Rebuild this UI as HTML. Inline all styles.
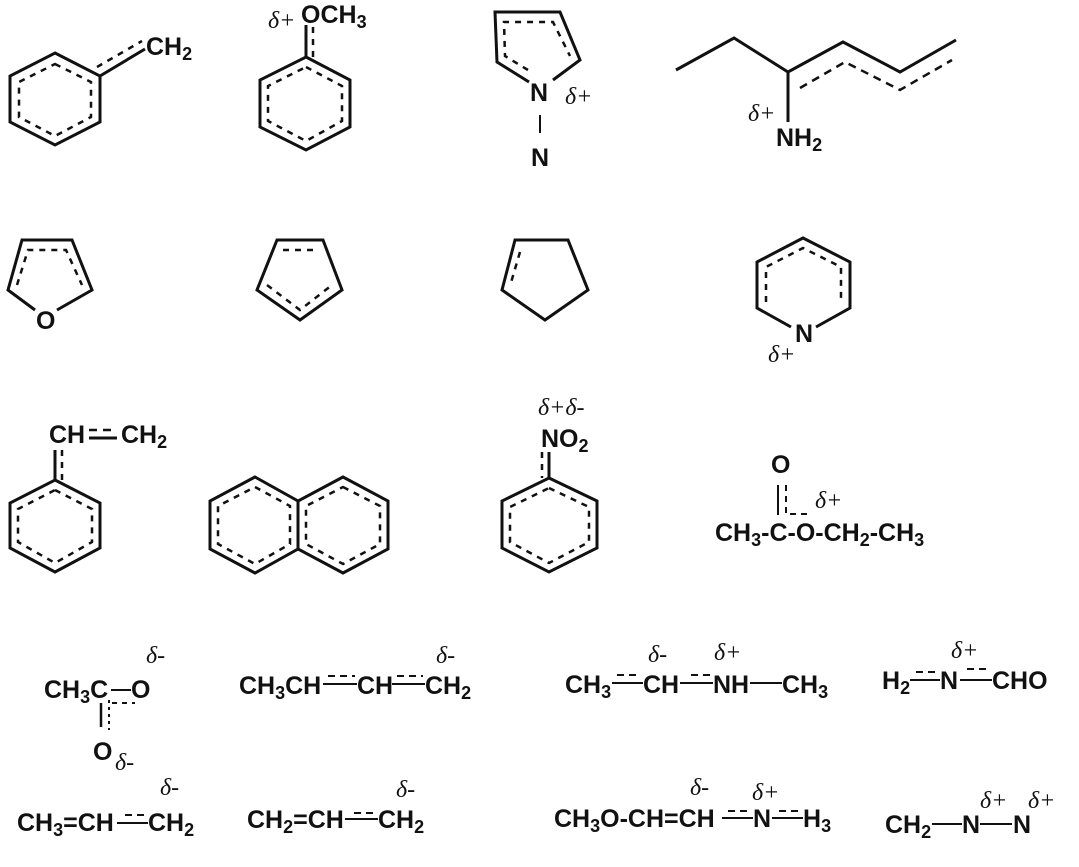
<!DOCTYPE html>
<html><head><meta charset="utf-8"><style>
html,body{margin:0;padding:0;background:#fff;}
svg text{font-family:"Liberation Sans",Arial,sans-serif;font-weight:bold;font-size:25px;fill:#111;}
svg text.d{font-family:"Liberation Serif",serif;font-style:italic;font-weight:normal;font-size:24px;}
</style></head><body>
<svg width="1079" height="862" viewBox="0 0 1079 862" xmlns="http://www.w3.org/2000/svg">
<g stroke="#111" stroke-width="3" fill="none" stroke-linejoin="miter">
<!-- benzene 1 -->
<polygon points="55,53 100,76 100,122 55,145 10,122 10,76"/>
<polygon points="55,64 91,82 91,117 55,136 19,117 19,82" stroke-dasharray="6,6" stroke-width="2.5"/>
<line x1="100" y1="76" x2="145" y2="49"/>
<line x1="97" y1="67" x2="142" y2="41" stroke-dasharray="6,6" stroke-width="2.5"/>
<!-- benzene 2 -->
<polygon points="306,57 350,80 350,127 306,150 260,127 260,80"/>
<polygon points="306,67 342,86 342,121 306,141 268,121 268,86" stroke-dasharray="6,6" stroke-width="2.5"/>
<line x1="306" y1="57" x2="306" y2="25"/>
<line x1="313" y1="57" x2="313" y2="25" stroke-dasharray="6,6" stroke-width="2.5"/>
<!-- pyrrole -->
<polyline points="529,82 497,62 495,12 560,12 580,60 553,80"/>
<polyline points="528,70 505,56 504,22 553,22 570,56" stroke-dasharray="6,6" stroke-width="2.5"/>
<line x1="540" y1="115" x2="540" y2="133" stroke-width="2"/>
<!-- chain -->
<polyline points="676,70 734,38 788,72 843,42 900,72 956,40"/>
<polyline points="800,88 845,62 900,90 952,60" stroke-dasharray="8,6" stroke-width="2.5"/>
<line x1="788" y1="72" x2="788" y2="122"/>
<!-- furan -->
<polyline points="35,310 8,290 22,240 72,240 92,290 57,310"/>
<polyline points="17,285 28,250 66,250 82,285" stroke-dasharray="6,6" stroke-width="2.5"/>
<!-- cyclopentadiene -->
<polygon points="277,240 323,240 342,290 300,320 257,290"/>
<polyline points="267,285 300,310 332,285" stroke-dasharray="6,6" stroke-width="2.5"/>
<polyline points="283,250 317,250" stroke-dasharray="6,6" stroke-width="2.5"/>
<!-- cyclopentene -->
<polygon points="515,240 568,240 588,290 545,320 502,290"/>
<line x1="520" y1="252" x2="510" y2="286" stroke-dasharray="6,6" stroke-width="2.5"/>
<!-- pyridine -->
<polyline points="791,327 757,308 757,262 803,238 850,262 850,308 816,327"/>
<polyline points="766,302 766,267 803,248 841,267 841,302" stroke-dasharray="6,6" stroke-width="2.5"/>
<!-- styrene -->
<line x1="89" y1="430" x2="117" y2="430" stroke-dasharray="8,6" stroke-width="2.5"/>
<line x1="89" y1="438" x2="117" y2="438"/>
<line x1="55" y1="450" x2="55" y2="480"/>
<line x1="62" y1="450" x2="62" y2="480" stroke-dasharray="6,6" stroke-width="2.5"/>
<polygon points="55,480 100,503 100,548 55,572 10,548 10,503"/>
<polygon points="55,490 92,509 92,542 55,563 18,542 18,509" stroke-dasharray="6,6" stroke-width="2.5"/>
<!-- naphthalene -->
<polygon points="255,477 298,501 298,549 255,573 210,549 210,501"/>
<polygon points="343,477 388,501 388,549 343,573 298,549 298,501"/>
<polygon points="255,487 290,506 290,544 255,564 218,544 218,506" stroke-dasharray="6,6" stroke-width="2.5"/>
<polygon points="343,487 380,506 380,544 343,564 306,544 306,506" stroke-dasharray="6,6" stroke-width="2.5"/>
<!-- nitrobenzene -->
<line x1="549" y1="452" x2="549" y2="478"/>
<line x1="542" y1="452" x2="542" y2="478" stroke-dasharray="6,6" stroke-width="2.5"/>
<polygon points="549,478 597,501 597,548 549,572 502,548 502,501"/>
<polygon points="549,488 589,507 589,542 549,563 510,542 510,507" stroke-dasharray="6,6" stroke-width="2.5"/>
<!-- ester -->
<line x1="778" y1="485" x2="778" y2="515" stroke-width="2"/>
<line x1="786" y1="485" x2="786" y2="515" stroke-dasharray="6,5" stroke-width="2"/>
<line x1="790" y1="514" x2="812" y2="514" stroke-dasharray="6,5" stroke-width="2"/>
<!-- row4 a -->
<line x1="111" y1="690" x2="131" y2="690" stroke-width="2"/>
<line x1="101" y1="703" x2="101" y2="727" stroke-width="2.5"/>
<line x1="109" y1="700" x2="109" y2="730" stroke-dasharray="3,4" stroke-width="2"/>
<line x1="112" y1="703" x2="135" y2="703" stroke-dasharray="5,5" stroke-width="2"/>
<g stroke-width="2">
<line x1="323" y1="684" x2="357" y2="684"/><line x1="328" y1="676" x2="355" y2="676" stroke-dasharray="7,5"/>
<line x1="392" y1="684" x2="425" y2="684"/><line x1="397" y1="676" x2="423" y2="676" stroke-dasharray="7,5"/>
<line x1="612" y1="683" x2="643" y2="683"/><line x1="617" y1="675" x2="641" y2="675" stroke-dasharray="7,5"/>
<line x1="680" y1="683" x2="713" y2="683"/><line x1="691" y1="675" x2="712" y2="675" stroke-dasharray="7,5"/>
<line x1="750" y1="683" x2="782" y2="683"/>
<line x1="910" y1="680" x2="940" y2="680"/><line x1="916" y1="672" x2="937" y2="672" stroke-dasharray="7,5"/>
<line x1="960" y1="680" x2="992" y2="680"/><line x1="967" y1="669" x2="990" y2="669" stroke-dasharray="7,5"/>
<line x1="117" y1="823" x2="148" y2="823"/><line x1="125" y1="815" x2="147" y2="815" stroke-dasharray="7,5"/>
<line x1="345" y1="819" x2="378" y2="819"/><line x1="354" y1="813" x2="376" y2="813" stroke-dasharray="7,5"/>
<line x1="722" y1="818" x2="753" y2="818"/><line x1="728" y1="811" x2="750" y2="811" stroke-dasharray="7,5"/>
<line x1="772" y1="818" x2="803" y2="818"/><line x1="779" y1="811" x2="801" y2="811" stroke-dasharray="7,5"/>
<line x1="932" y1="824" x2="962" y2="824"/>
<line x1="980" y1="824" x2="1012" y2="824"/>
</g>
</g>
<text x="146" y="55">CH<tspan font-size="18" dy="5">2</tspan></text>
<text class="d" x="268" y="28">δ+</text>
<text x="301" y="23">OCH<tspan font-size="18" dy="5">3</tspan></text>
<text x="530" y="101">N</text>
<text class="d" x="565" y="104">δ+</text>
<text x="531" y="166">N</text>
<text class="d" x="748" y="121">δ+</text>
<text x="776" y="146">NH<tspan font-size="18" dy="5">2</tspan></text>
<text x="36" y="329">O</text>
<text x="795" y="342">N</text>
<text class="d" x="768" y="362">δ+</text>
<text x="49" y="443">CH</text>
<text x="121" y="443">CH<tspan font-size="18" dy="5">2</tspan></text>
<text class="d" x="538" y="415">δ+δ-</text>
<text x="541" y="447">NO<tspan font-size="18" dy="5">2</tspan></text>
<text x="771" y="473">O</text>
<text class="d" x="815" y="508">δ+</text>
<text x="715" y="541">CH<tspan font-size="18" dy="5">3</tspan><tspan dy="-5">-C-O-CH</tspan><tspan font-size="18" dy="5">2</tspan><tspan dy="-5">-CH</tspan><tspan font-size="18" dy="5">3</tspan></text>
<text class="d" x="146" y="663">δ-</text>
<text x="44" y="698">CH<tspan font-size="18" dy="5">3</tspan><tspan dy="-5">C</tspan></text>
<text x="131" y="698">O</text>
<text x="93" y="760">O</text>
<text class="d" x="115" y="770">δ-</text>
<text class="d" x="436" y="663">δ-</text>
<text x="239" y="694">CH<tspan font-size="18" dy="5">3</tspan><tspan dy="-5">CH</tspan></text>
<text x="357" y="694">CH</text>
<text x="425" y="694">CH<tspan font-size="18" dy="5">2</tspan></text>
<text class="d" x="648" y="662">δ-</text>
<text class="d" x="714" y="660">δ+</text>
<text x="565" y="693">CH<tspan font-size="18" dy="5">3</tspan></text>
<text x="643" y="693">CH</text>
<text x="713" y="693">NH</text>
<text x="782" y="693">CH<tspan font-size="18" dy="5">3</tspan></text>
<text class="d" x="951" y="658">δ+</text>
<text x="882" y="689">H<tspan font-size="18" dy="5">2</tspan></text>
<text x="940" y="689">N</text>
<text x="992" y="689">CHO</text>
<text class="d" x="160" y="795">δ-</text>
<text x="17" y="831">CH<tspan font-size="18" dy="5">3</tspan><tspan dy="-5">=CH</tspan></text>
<text x="148" y="831">CH<tspan font-size="18" dy="5">2</tspan></text>
<text class="d" x="396" y="797">δ-</text>
<text x="247" y="828">CH<tspan font-size="18" dy="5">2</tspan><tspan dy="-5">=CH</tspan></text>
<text x="378" y="828">CH<tspan font-size="18" dy="5">2</tspan></text>
<text class="d" x="690" y="795">δ-</text>
<text class="d" x="752" y="800">δ+</text>
<text x="554" y="827">CH<tspan font-size="18" dy="5">3</tspan><tspan dy="-5">O-CH=CH</tspan></text>
<text x="753" y="827">N</text>
<text x="803" y="827">H<tspan font-size="18" dy="5">3</tspan></text>
<text class="d" x="980" y="808">δ+</text>
<text class="d" x="1028" y="808">δ+</text>
<text x="885" y="833">CH<tspan font-size="18" dy="5">2</tspan></text>
<text x="962" y="833">N</text>
<text x="1013" y="833">N</text>
</svg>
</body></html>
